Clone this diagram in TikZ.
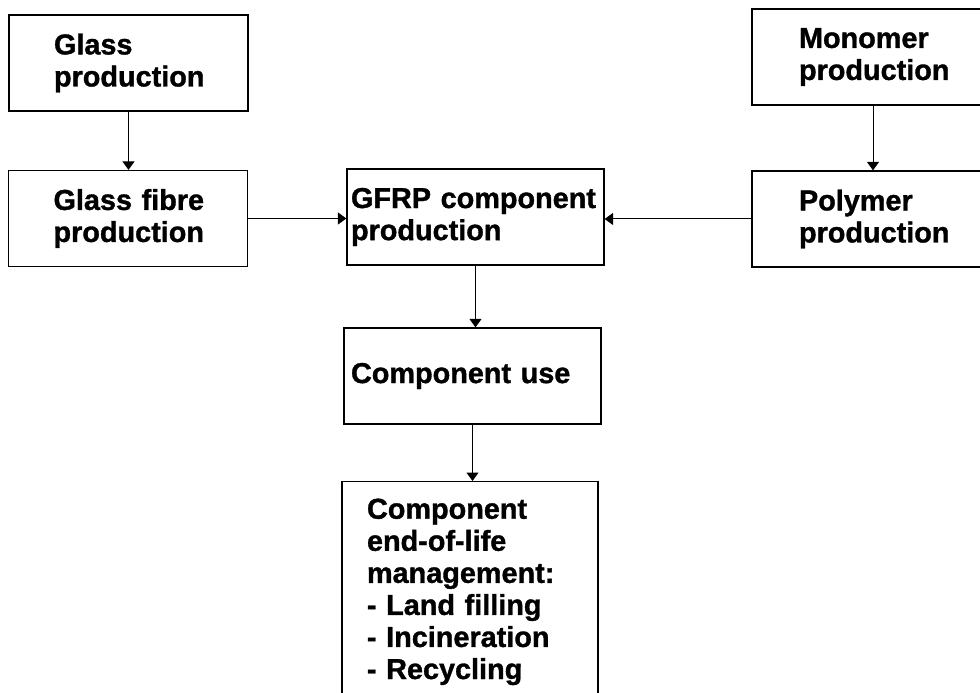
\documentclass[tikz,border=0pt]{standalone}
\usepackage{fontspec}
\setmainfont{Liberation Sans}[BoldFeatures={FakeBold=1.2}]
\usetikzlibrary{
  arrows.meta   % Triangle 箭头样式
}
% 不断词
\hyphenpenalty=10000
\exhyphenpenalty=10000

\tikzset{
  stage/.style={draw, line width=0.9pt, align=left, inner ysep=0pt,
    minimum height=2.4cm, font=\fontsize{20.5}{22.8}\selectfont\bfseries},
  flow/.style={->, line width=0.7pt}
}

\begin{document}
\begin{tikzpicture}[>={Triangle[length=6pt,width=8.5pt]}]

  % 画布范围
  \useasboundingbox (0,0) rectangle (24.5,17.325);

  % =========== 左列：玻璃 ===========
  \node[stage, inner xsep=1.125cm, text width=3.725cm] (glass) at (3.2125,15.75)
    {Glass\\production};
  \node[stage, inner xsep=1.125cm, text width=3.725cm] (fibre) at (3.2,11.8625)
    {\mbox{Glass fibre}\\production};

  % =========== 右列：聚合物 ===========
  \node[stage, inner xsep=1.175cm, text width=3.7cm] (monomer) at (21.825,15.9)
    {Monomer\\production};
  \node[stage, inner xsep=1.175cm, text width=3.7cm] (polymer) at (21.825,11.85)
    {Polymer\\production};

  % =========== 中列：部件 ===========
  \node[stage, inner xsep=0.1cm, text width=6.225cm] (gfrp) at (11.8875,11.9)
    {GFRP~component\\production};
  \node[stage, inner xsep=0.175cm, text width=6.075cm] (use) at (11.8125,7.925)
    {Component~use};
  % 末端节点 (下边超出画布)
  \node[stage, anchor=north, minimum height=0pt, inner xsep=0.625cm, inner ysep=0.425cm,
    text width=5.15cm] (eol) at (11.75,5.3)
    {Component\\end-of-life\\management:\\- Land~filling\\- Incineration\\- Recycling};

  % =========== 箭头 ===========
  \draw[flow] (glass.south) -- (glass.south |- fibre.north);
  \draw[flow] (monomer.south) -- (monomer.south |- polymer.north);
  \draw[flow] (fibre.east) -- (fibre.east -| gfrp.west);
  \draw[flow] (polymer.west) -- (polymer.west -| gfrp.east);
  \draw[flow] (gfrp.south) -- (gfrp.south |- use.north);
  \draw[flow] (use.south) -- (use.south |- eol.north);

\end{tikzpicture}
\end{document}
